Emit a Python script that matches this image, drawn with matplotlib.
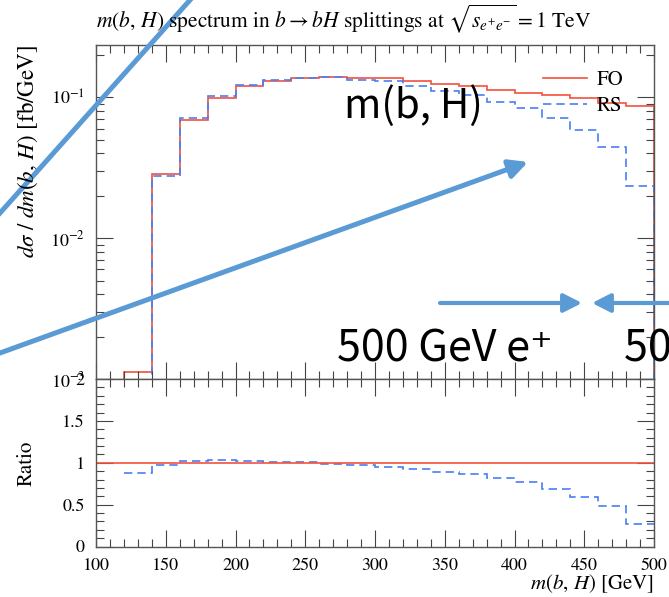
import numpy as np
import matplotlib
matplotlib.use("Agg")
import matplotlib.pyplot as plt
from matplotlib.patches import FancyArrowPatch
from matplotlib.lines import Line2D
from matplotlib.ticker import MultipleLocator, LogLocator, NullFormatter, FuncFormatter

W, H = 669, 597

# bin edges in m(b,H) [GeV], 20 GeV bins
edges = np.arange(100, 520, 20)
# d sigma / dm [fb/GeV], fixed order vs. resummed (first bin empty)
fo = [0.0, 0.00112, 0.0283, 0.0695, 0.0995, 0.120, 0.1305, 0.136, 0.140, 0.137,
      0.136, 0.1297, 0.125, 0.120, 0.1135, 0.108, 0.1045, 0.0989, 0.0917, 0.0868]
rs = [0.0, 0.000986, 0.0276, 0.0709, 0.1023, 0.1219, 0.1321, 0.1365, 0.1386, 0.1337,
      0.1299, 0.1206, 0.1113, 0.1032, 0.0926, 0.0835, 0.0713, 0.0583, 0.0441, 0.0235]

RED = "#f4503c"
BLUE = "#4a7ef5"
NOTE = "#5b9bd5"
SANS = ["Noto Sans CJK KR", "DejaVu Sans"]

plt.rcParams.update({
    "font.family": "STIXGeneral",
    "mathtext.fontset": "stix",
    "font.size": 15,
    "xtick.labelsize": 13,
    "ytick.labelsize": 13,
    "axes.edgecolor": "#555555",
    "axes.linewidth": 1.0,
})

fo = np.array(fo)
rs = np.array(rs)
ratio = rs[1:] / fo[1:]

fig = plt.figure(figsize=(W / 100, H / 100), dpi=100)
ax = fig.add_axes([96 / W, 1 - 379 / H, (654 - 96) / W, (379 - 45) / H])
axr = fig.add_axes([96 / W, 1 - 546.5 / H, (654 - 96) / W, (546.5 - 379) / H], sharex=ax)

# spectrum
ax.stairs(fo[1:], edges[1:], baseline=1e-4, color=RED, lw=1.2)
ax.stairs(rs[1:], edges[1:], baseline=1e-4, color=BLUE, lw=1.2, ls=(0, (5, 3)))
ax.set_yscale("log")
ax.set_ylim(1e-3, 0.235)
ax.set_xlim(100, 500)
ax.yaxis.set_major_locator(LogLocator(base=10))
ax.yaxis.set_minor_locator(LogLocator(base=10, subs=np.arange(2, 10)))
ax.yaxis.set_minor_formatter(NullFormatter())

# ratio panel
axr.hlines(1.0, 100, 500, color=RED, lw=1.2)
axr.stairs(ratio, edges[1:], baseline=None, color=BLUE, lw=1.2, ls=(0, (5, 3)))
axr.set_ylim(0, 2)
axr.yaxis.set_major_locator(MultipleLocator(0.5))
axr.yaxis.set_minor_locator(MultipleLocator(0.1))
axr.yaxis.set_major_formatter(FuncFormatter(lambda v, p: f"{v:g}"))
axr.xaxis.set_major_locator(MultipleLocator(50))
axr.xaxis.set_minor_locator(MultipleLocator(10))

for a in (ax, axr):
    a.tick_params(which="both", direction="in", top=True, right=True, color="#444444")
    a.tick_params(which="major", length=12, width=0.8, pad=8)
    a.tick_params(which="minor", length=6, width=0.8)
ax.tick_params(labelbottom=False)

fig.text(27 / W, 1 - 463 / H, "Ratio", rotation=90, ha="center", va="center")
fig.text(654 / W, 1 - 589 / H, r"$m(b,\,H)$ [GeV]", ha="right", va="baseline")
fig.text(28 / W, 1 - 45 / H, r"$d\sigma\ /\ dm(b,\,H)$ [fb/GeV]", rotation=90,
         ha="center", va="top", fontsize=16.5)
fig.text(96 / W, 1 - 27 / H,
         r"$m(b,\,H)$ spectrum in $b\rightarrow bH$ splittings at $\sqrt{s_{e^{+}e^{-}}}=1$ TeV",
         ha="left", va="baseline", fontsize=15.5)

handles = [Line2D([], [], color=RED, lw=1.2),
           Line2D([], [], color=BLUE, lw=1.2, ls=(0, (5, 3)))]
ax.legend(handles, ["FO", "RS"], loc="upper left", bbox_to_anchor=(0.801, 0.925),
          frameon=False, borderpad=0, borderaxespad=0, handlelength=2.1,
          handletextpad=0.5, labelspacing=0.3)

# annotation overlay, in figure pixels
def fp(x, y):
    return (x / W, 1 - y / H)

fig.add_artist(Line2D([0, 190 / W], [1 - 213 / H, 1.0], color=NOTE, lw=3.6,
                      transform=fig.transFigure))
for a, b, lw in [((0, 353), (528, 162), 3.6),
                 ((440, 303), (582, 303), 3.0),
                 ((669, 303), (592, 303), 3.0)]:
    fig.add_artist(FancyArrowPatch(fp(*a), fp(*b), transform=fig.transFigure,
                                   arrowstyle="-|>,head_length=0.55,head_width=0.28",
                                   mutation_scale=20, color=NOTE, lw=lw,
                                   shrinkA=0, shrinkB=0))

fig.text(*fp(344, 118), "m(b, H)", fontsize=29, family=SANS, ha="left", va="baseline")
fig.text(*fp(337, 362), "500 GeV e\u207a", fontsize=31, family=SANS,
         ha="left", va="baseline")
fig.text(*fp(624, 362), "500 GeV e\u207b", fontsize=31, family=SANS,
         ha="left", va="baseline")

fig.savefig("out.png", dpi=100)
